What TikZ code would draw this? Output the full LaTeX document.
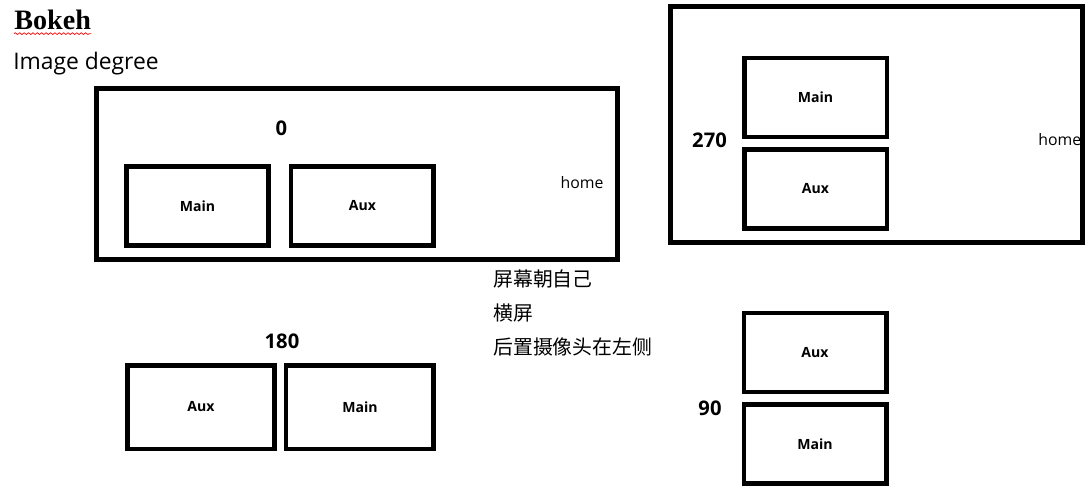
\documentclass[tikz,border=0pt]{standalone}
\usepackage{fontspec}
\setmainfont{Open Sans}
\newfontfamily\titlefont{Liberation Serif}
\newfontfamily\cjk{Noto Sans CJK SC}
\usepackage{tikz}
\usetikzlibrary{positioning,decorations.pathmorphing}

\begin{document}
\begin{tikzpicture}[
    x=0.02cm, y=-0.02cm,
    frame/.style={draw=black, line width=0.1cm},
    cam/.style={rectangle, draw=black, line width=0.09cm, minimum width=2.85cm, minimum height=1.58cm, inner sep=0pt, font=\bfseries\fontsize{8}{10}\selectfont},
    camwide/.style={cam, minimum width=2.95cm, minimum height=1.67cm},
    degree/.style={font=\bfseries\fontsize{11.5}{14}\selectfont},
    label/.style={font=\fontsize{9}{11}\selectfont},
    note/.style={font=\cjk\fontsize{11.3}{14}\selectfont, anchor=west, inner sep=0pt},
    squiggle/.style={red, line width=0.4pt, decorate, decoration={snake, amplitude=0.5pt, segment length=2.5pt}}
]
    \useasboundingbox (0,0) rectangle (1087,494);

    % Title
    \node[anchor=base west, inner sep=0pt, font=\titlefont\bfseries\fontsize{16}{19}\selectfont] (title) at (14,29) {Bokeh};
    \draw[squiggle] ([yshift=-0.08cm]title.south west) -- ([yshift=-0.08cm]title.south east);
    \node[anchor=base west, inner sep=0pt, font=\fontsize{13}{16}\selectfont] (subtitle) at (13,69) {Image degree};

    % 0 degree
    \draw[frame] (96.5,88.5) rectangle (617.5,259.5);
    \node[cam] (main0) at (197.5,206) {Main};
    \node[cam, right=0.36cm of main0] (aux0) {Aux};
    \node[degree] (deg0) at (281.5,128.5) {0};
    \node[label] (home0) at (582,183) {home};

    % 180 degree
    \node[camwide] (aux180) at (201,407) {Aux};
    \node[camwide, right=0.14cm of aux180] (main180) {Main};
    \node[degree] (deg180) at (282,341) {180};

    % 270 degree
    \node[label, anchor=west, inner sep=0pt] (home270) at (1038,140) {home};
    \draw[frame] (670.5,6.5) rectangle (1082.5,242.5);
    \node[cam] (main270) at (815.5,97.5) {Main};
    \node[cam, below=0.16cm of main270] (aux270) {Aux};
    \node[degree] (deg270) at (709.5,140) {270};

    % 90 degree
    \node[cam] (aux90) at (815,352.5) {Aux};
    \node[cam, below=0.16cm of aux90] (main90) {Main};
    \node[degree] (deg90) at (710,408) {90};

    % Notes
    \node[note] (note1) at (493,279) {屏幕朝自己};
    \node[note] (note2) at (493,313) {横屏};
    \node[note] (note3) at (493,347) {后置摄像头在左侧};
\end{tikzpicture}
\end{document}
